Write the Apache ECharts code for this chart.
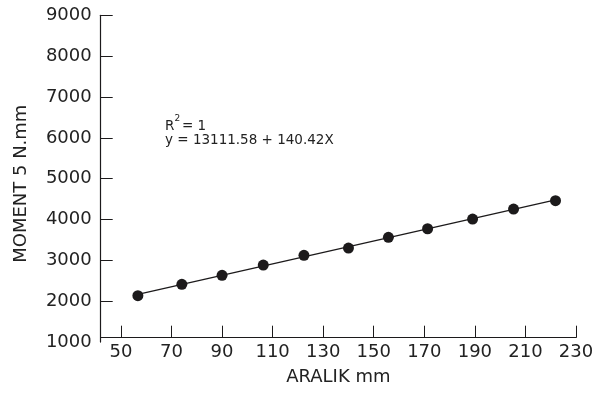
<!DOCTYPE html>
<html>
<head>
<meta charset="utf-8">
<script src="https://cdn.jsdelivr.net/npm/echarts@6/dist/echarts.min.js"></script>
<style>
  html, body { margin: 0; padding: 0; background: #fff; }
  #chart { width: 606px; height: 397px; }
</style>
</head>
<body>
<div id="chart"></div>
<script>
// ARALIK mm
const aralik = [56.7, 74.1, 90.0, 106.3, 122.4, 140.0, 155.8, 171.3, 189.1, 205.3, 221.9]
// MOMENT 5 N.mm
const moment = [2136, 2415, 2635, 2887, 3124, 3303, 3565, 3775, 4013, 4257, 4461]
const xTicks = [50, 70, 90, 110, 130, 150, 170, 190, 210, 230]
const yTicks = [1000, 2000, 3000, 4000, 5000, 6000, 7000, 8000, 9000]

// fitted line through the points (least squares)
let n = aralik.length
let sx = 0, sy = 0, sxx = 0, sxy = 0
for (let i = 0; i < n; i++) {
  sx += aralik[i]
  sy += moment[i]
  sxx += aralik[i] * aralik[i]
  sxy += aralik[i] * moment[i]
}
let b = (n * sxy - sx * sy) / (n * sxx - sx * sx)
let a = (sy - b * sx) / n
let x0 = aralik[0]
let x1 = aralik[n - 1]
let fitLine = [[x0, a + b * x0], [x1, a + b * x1]]

let font = 'DejaVu Sans'
let ink = '#1c1a1b'
let txt = '#222'

let chart = echarts.init(document.getElementById('chart'))
let option = {
  animation: false,
  backgroundColor: '#fff',
  textStyle: { fontFamily: font },
  grid: {
    left: 100.7,
    right: 30,
    top: 15.3,
    bottom: 54.9
  },
  xAxis: {
    type: 'value',
    min: 42,
    max: 230,
    offset: -4.4,
    name: 'ARALIK mm',
    nameLocation: 'middle',
    nameGap: 31,
    nameTextStyle: { fontFamily: font, fontSize: 18, color: txt },
    axisLine: { show: true, lineStyle: { color: ink, width: 1.2 } },
    axisTick: {
      show: true,
      inside: true,
      length: 12,
      customValues: xTicks,
      lineStyle: { color: ink, width: 1 }
    },
    axisLabel: {
      customValues: xTicks,
      margin: 6,
      fontFamily: font,
      fontSize: 18,
      color: txt,
      formatter: v => String(v)
    },
    splitLine: { show: false }
  },
  yAxis: {
    type: 'value',
    min: 1000,
    max: 9000,
    name: 'MOMENT 5 N.mm',
    nameLocation: 'middle',
    nameGap: 70,
    nameTextStyle: { fontFamily: font, fontSize: 18, color: txt, padding: [0, 10, 0, 0] },
    axisLine: { show: true, lineStyle: { color: ink, width: 1.2 } },
    axisTick: {
      show: true,
      inside: true,
      length: 12,
      customValues: yTicks.slice(1),
      lineStyle: { color: ink, width: 1 }
    },
    axisLabel: {
      customValues: yTicks,
      margin: 9,
      fontFamily: font,
      fontSize: 18,
      color: txt,
      formatter: v => String(v)
    },
    splitLine: { show: false }
  },
  graphic: [
    {
      type: 'text',
      left: 165,
      top: 119,
      style: { text: 'R', fontFamily: font, fontSize: 13.5, fill: txt }
    },
    {
      type: 'text',
      left: 174.5,
      top: 114,
      style: { text: '2', fontFamily: font, fontSize: 9, fill: txt }
    },
    {
      type: 'text',
      left: 182,
      top: 119,
      style: { text: '= 1', fontFamily: font, fontSize: 13.5, fill: txt }
    },
    {
      type: 'text',
      left: 165,
      top: 133,
      style: { text: 'y = 13111.58 + 140.42X', fontFamily: font, fontSize: 13.5, fill: txt }
    }
  ],
  series: [
    {
      type: 'line',
      data: fitLine,
      symbol: 'none',
      lineStyle: { color: ink, width: 1.3 },
      z: 2
    },
    {
      type: 'scatter',
      data: aralik.map((x, i) => [x, moment[i]]),
      symbol: 'circle',
      symbolSize: 11,
      itemStyle: { color: ink, opacity: 1 },
      z: 3
    }
  ]
}
chart.setOption(option)
</script>
</body>
</html>
